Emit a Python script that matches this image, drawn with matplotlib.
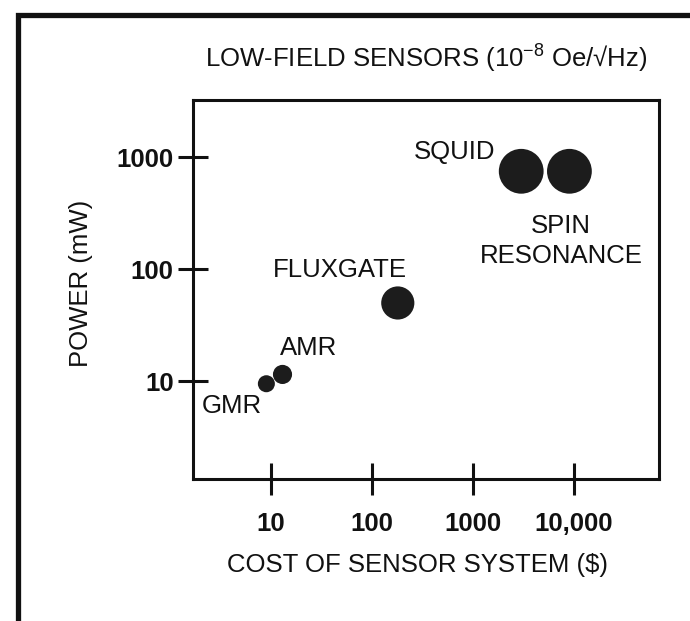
import matplotlib
matplotlib.use("Agg")
import matplotlib.pyplot as plt
from matplotlib.patches import Rectangle

plt.rcParams['font.family'] = ['Liberation Sans', 'DejaVu Sans']
plt.rcParams['mathtext.fontset'] = 'custom'
plt.rcParams['mathtext.rm'] = 'Liberation Sans'
plt.rcParams['mathtext.default'] = 'regular'

# ---- data: low-field magnetic sensors ----
sensors = ["GMR", "AMR", "FLUXGATE", "SQUID", "SPIN\nRESONANCE"]
cost_usd = [9, 13, 180, 3000, 9000]
power_mw = [9.5, 11.5, 50, 750, 750]
dot_size = [150, 190, 570, 1040, 1040]

x_ticks = [10, 100, 1000, 10000]
x_ticklabels = ["10", "100", "1000", "10,000"]
y_ticks = [10, 100, 1000]
y_ticklabels = ["10", "100", "1000"]

# label offsets in points from each dot
label_offsets = [(-25, -16), (19, 19), (-42, 24), (-48, 14), (-6, -50)]

INK = "#111111"
FS = 18.5

fig = plt.figure(figsize=(6.9, 6.21), dpi=100)
ax = fig.add_axes([0.2797, 0.2287, 0.6754, 0.6103])

ax.scatter(cost_usd, power_mw, s=dot_size, color="#1c1c1c", edgecolors="none", zorder=3)

for name, x, y, off in zip(sensors, cost_usd, power_mw, label_offsets):
    ax.annotate(name, (x, y), xytext=off, textcoords="offset points",
                ha="center", va="center", fontsize=FS, color=INK,
                linespacing=1.3)

ax.set_xscale("log")
ax.set_yscale("log")
ax.set_xlim(1.69, 69400)
ax.set_ylim(1.34, 3250)

ax.set_xticks(x_ticks)
ax.set_xticklabels(x_ticklabels, fontweight="bold", fontsize=FS, color=INK)
ax.set_yticks(y_ticks)
ax.set_yticklabels(y_ticklabels, fontweight="bold", fontsize=FS, color=INK)
ax.minorticks_off()
ax.tick_params(axis="x", direction="inout", length=23, width=2.2, pad=12, color=INK)
ax.tick_params(axis="y", direction="inout", length=22, width=2.2, pad=3, color=INK)

for sp in ax.spines.values():
    sp.set_linewidth(2.2)
    sp.set_color(INK)

ax.set_xlabel("COST OF SENSOR SYSTEM ($)", fontsize=FS, color=INK, va="center")
ax.xaxis.set_label_coords(0.481, -0.227)
ax.set_ylabel("POWER (mW)", fontsize=FS, color=INK, va="center")
ax.yaxis.set_label_coords(-0.24, 0.515)

fig.text(426 / 690, 1 - 59 / 621, "LOW-FIELD SENSORS (10$^{-8}$ Oe/\u221aHz)",
         ha="center", va="center", fontsize=FS, color=INK)

# page frame running off the right and bottom edges
fig.add_artist(Rectangle((17.5 / 690, -0.2), 1.5, 1.2 - 14.5 / 621,
                         transform=fig.transFigure, fill=False,
                         linewidth=3.8, edgecolor=INK))

fig.savefig("out.png", dpi=100)
